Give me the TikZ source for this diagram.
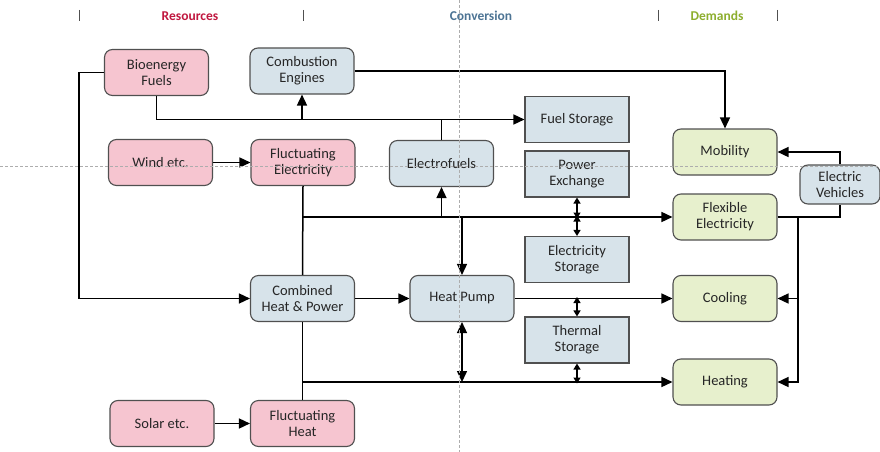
\documentclass[tikz,border=0pt]{standalone}
\usepackage{fontspec}
\setmainfont{Carlito}
\usetikzlibrary{arrows.meta}
\definecolor{resfill}{HTML}{F6C5D0}
\definecolor{convfill}{HTML}{D7E3EA}
\definecolor{demfill}{HTML}{E7F0CD}
\definecolor{boxline}{HTML}{505050}
\definecolor{txt}{HTML}{262626}
\definecolor{reshead}{HTML}{C0173F}
\definecolor{convhead}{HTML}{4D7494}
\definecolor{demhead}{HTML}{8DAE2E}
\tikzset{
  box/.style={draw=boxline, line width=1.1pt, rounded corners=8pt, align=center,
    text=txt, font=\fontsize{14.5}{16}\selectfont, inner sep=1pt,
    minimum width=104pt, minimum height=46pt},
  res/.style={box, fill=resfill},
  conv/.style={box, fill=convfill},
  dem/.style={box, fill=demfill},
  store/.style={box, fill=convfill, rounded corners=0pt},
  conn/.style={draw=black, line width=1.5pt, -{Triangle[length=11pt,width=10pt]}},
  plain/.style={draw=black, line width=1.5pt},
  both/.style={draw=black, line width=1.5pt, {Triangle[length=11pt,width=10pt]}-{Triangle[length=11pt,width=10pt]}},
  dbl/.style={draw=black, line width=1.3pt, {Triangle[length=6pt,width=7pt]}-{Triangle[length=6pt,width=7pt]}},
  head/.style={font=\fontsize{13.5}{15}\selectfont\bfseries},
  bar/.style={draw=boxline, line width=0.9pt},
  guide/.style={draw=black!32, line width=0.6pt, dash pattern=on 3pt off 2pt}
}
\begin{document}
\begin{tikzpicture}[x=1pt, y=-1pt]
\useasboundingbox (0,0) rectangle (880,452);

% column headings
\foreach \bx [count=\i] in {79,303,658,777}
  \draw[bar] (\bx,10) coordinate (b\i) -- (\bx,21);
\node[head, text=reshead] (hres) at (190,16) {Resources};
\node[head, text=convhead] (hconv) at (481,16) {Conversion};
\node[head, text=demhead] (hdem) at (717,16) {Demands};

% resources
\node[res] (bio)   at (156.5,72.5) {Bioenergy\\Fuels};
\node[res] (wind)  at (160.5,162.5) {Wind etc.};
\node[res] (fel)   at (303,162.5) {Fluctuating\\Electricity};
\node[res] (solar) at (162,423.5) {Solar etc.};
\node[res] (fheat) at (302.5,423.5) {Fluctuating\\Heat};

% conversion
\node[conv] (comb)  at (302,71) {Combustion\\Engines};
\node[conv] (efuel) at (441.5,163.5) {Electrofuels};
\node[conv] (chp)   at (302.5,298.5) {Combined\\Heat \& Power};
\node[conv] (hp)    at (462,298.5) {Heat Pump};
\node[conv, minimum width=80pt, minimum height=39pt] (ev) at (840,184.5) {Electric\\Vehicles};

% storages
\node[store] (fuel) at (577,119.5) {Fuel Storage};
\node[store] (pex)  at (577,174) {Power\\Exchange};
\node[store] (est)  at (577,259.5) {Electricity\\Storage};
\node[store] (ts)   at (577,340) {Thermal\\Storage};

% demands
\node[dem] (mob)  at (725,152) {Mobility};
\node[dem] (flex) at (725,217) {Flexible\\Electricity};
\node[dem] (cool) at (725,298.5) {Cooling};
\node[dem] (heat) at (725,382) {Heating};

% fuel paths
\draw[conn] (bio.west) -- ++(-25,0) |- (chp.west);
\draw[conn] (bio.south) |- (fuel.west);
\draw[conn] (comb.south |- fuel.west) -- (comb.south);
\draw[plain] (efuel.north) -- (efuel.north |- fuel.west);
\draw[conn] (comb.east) -| (mob.north);

% electricity paths
\draw[conn] (wind.east) -- (fel.west);
\draw[plain] (fel.south) -- (chp.north);
\draw[conn] (fel.south |- flex.west) -- (flex.west);
\draw[conn] (efuel.south |- flex.west) -- (efuel.south);
\draw[conn] (hp.north |- flex.west) -- (hp.north);
\draw[dbl] (pex.south) -- ([yshift=-1.5pt]pex.south |- flex.west);
\draw[dbl] ([yshift=1.5pt]est.north |- flex.west) -- (est.north);

% electric vehicles
\draw[conn] (ev.north) |- (mob.east);
\draw[plain] (flex.east) -| (ev.south);
\coordinate (bus) at (798,217);
\draw[conn] (bus) |- (heat.east);
\draw[conn] (bus |- cool.east) -- (cool.east);

% heat paths
\draw[conn] (chp.east) -- (hp.west);
\draw[conn] (hp.east) -- (cool.west);
\draw[plain] (chp.south) -- (fheat.north);
\draw[conn] (chp.south |- heat.west) -- (heat.west);
\draw[both] (hp.south) -- (hp.south |- heat.west);
\draw[dbl] ([yshift=1.5pt]ts.north |- cool.west) -- (ts.north);
\draw[dbl] (ts.south) -- ([yshift=-1.5pt]ts.south |- heat.west);
\draw[conn] (solar.east) -- (fheat.west);

% guide lines
\draw[guide] (459,0) coordinate (gv1) -- (459,452) coordinate (gv2);
\draw[guide] (0,166) coordinate (gh1) -- (880,166) coordinate (gh2);
\end{tikzpicture}
\end{document}
